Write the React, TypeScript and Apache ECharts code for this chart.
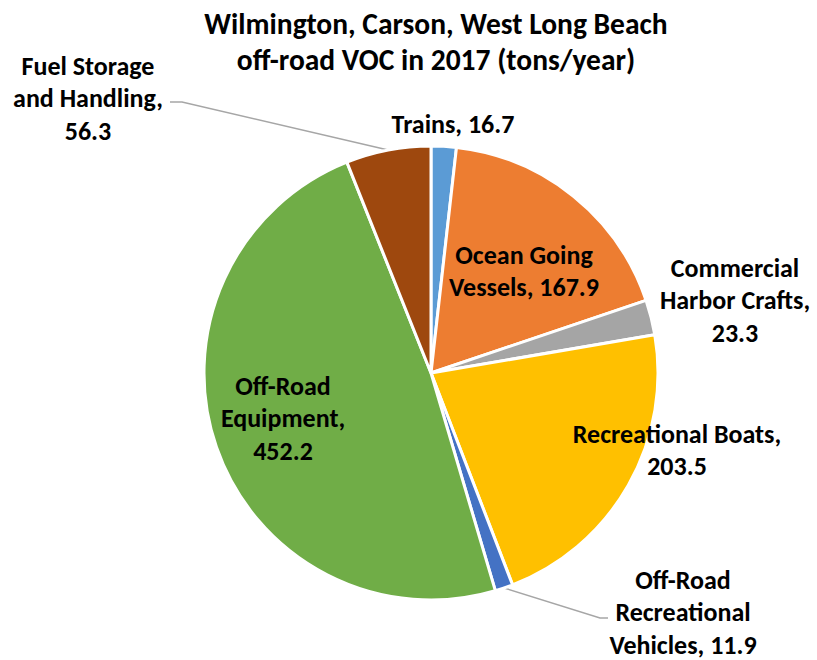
import React, { useEffect, useRef } from "react";
import * as echarts from "echarts";

const titleLines = ["Wilmington, Carson, West Long Beach", "off-road VOC in 2017 (tons/year)"];
const categories = [
  "Trains",
  "Ocean Going Vessels",
  "Commercial Harbor Crafts",
  "Recreational Boats",
  "Off-Road Recreational Vehicles",
  "Off-Road Equipment",
  "Fuel Storage and Handling",
];
const values = [16.7, 167.9, 23.3, 203.5, 11.9, 452.2, 56.3];
const labelTemplates = [
  "Trains, {v}",
  "Ocean Going\nVessels, {v}",
  "Commercial\nHarbor Crafts,\n{v}",
  "Recreational Boats,\n{v}",
  "Off-Road\nRecreational\nVehicles, {v}",
  "Off-Road\nEquipment,\n{v}",
  "Fuel Storage\nand Handling,\n{v}",
];
const colors = ["#5B9BD5", "#ED7D31", "#A5A5A5", "#FFC000", "#4472C4", "#70AD47", "#9E480E"];
const insideLabel = [false, true, false, true, false, true, false];
const withLeader = [false, false, false, false, true, false, true];

// label anchor positions (centers) and leader-line elbows
const labelPos: number[][] = [
  [453, 124],
  [524, 271],
  [735, 300],
  [677, 450],
  [683, 612],
  [283, 418],
  [88, 98],
];
const leaderElbows: Record<number, number[][]> = {
  4: [[600, 618], [608, 618]],
  6: [[182, 102], [170, 102]],
};

const FONT = "Carlito, Lato, 'Noto Sans', sans-serif";

export default function App() {
  const ref = useRef<HTMLDivElement>(null);
  useEffect(() => {
    document.body.style.margin = "0";
    if (!ref.current) return;
    const chart = echarts.init(ref.current, undefined, { renderer: "svg" });
    chart.setOption({
      animation: false,
      backgroundColor: "#ffffff",
      title: {
        text: titleLines.join("\n"),
        left: 431,
        top: 1,
        textAlign: "center",
        textStyle: {
          fontFamily: FONT,
          fontSize: 29.5,
          fontWeight: "bold",
          color: "#000000",
          lineHeight: 36,
        },
      },
      series: [
        {
          type: "pie",
          center: [431, 373],
          radius: 227,
          startAngle: 90,
          clockwise: true,
          avoidLabelOverlap: false,
          itemStyle: { borderColor: "#ffffff", borderWidth: 3 },
          label: {
            fontFamily: FONT,
            fontSize: 26,
            fontWeight: "bold",
            color: "#000000",
            lineHeight: 32.5,
            align: "center",
            formatter: (p: any) => labelTemplates[p.dataIndex].replace("{v}", Number(p.value).toFixed(1)),
          },
          labelLine: { show: false },
          labelLayout: (p: any) => {
            const i = p.dataIndex;
            const res: any = {
              x: labelPos[i][0],
              y: labelPos[i][1],
              align: "center",
              verticalAlign: "middle",
            };
            if (withLeader[i] && p.labelLinePoints) {
              res.labelLinePoints = [p.labelLinePoints[0], ...leaderElbows[i]];
            }
            return res;
          },
          data: categories.map((name, i) => ({
            name,
            value: values[i],
            itemStyle: { color: colors[i] },
            label: { position: insideLabel[i] ? "inside" : "outside" },
            labelLine: withLeader[i]
              ? { show: true, length: 10, length2: 10, lineStyle: { color: "#A6A6A6", width: 1.5 } }
              : { show: false },
          })),
        },
      ],
    });
    return () => chart.dispose();
  }, []);
  return <div ref={ref} style={{ width: 817, height: 660 }} />;
}
